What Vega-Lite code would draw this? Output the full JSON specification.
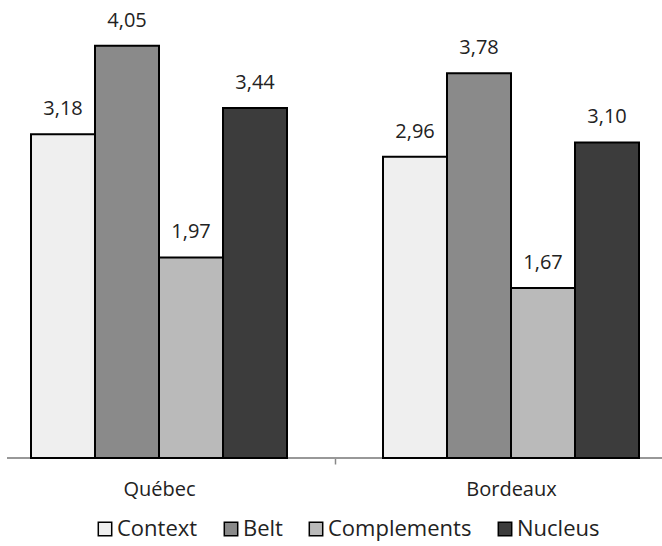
{
  "$schema": "https://vega.github.io/schema/vega-lite/v6.json",
  "width": 655,
  "height": 458,
  "autosize": {"type": "none"},
  "padding": {"left": 7, "top": 0, "right": 0, "bottom": 88},
  "background": "white",
  "config": {
    "view": {"stroke": null},
    "font": "Open Sans",
    "locale": {"number": {"decimal": ",", "thousands": " ", "grouping": [3], "currency": ["", " €"]}}
  },
  "data": {
    "values": [
      {"city": "Québec", "component": "Context", "value": 3.18},
      {"city": "Québec", "component": "Belt", "value": 4.05},
      {"city": "Québec", "component": "Complements", "value": 1.97},
      {"city": "Québec", "component": "Nucleus", "value": 3.44},
      {"city": "Bordeaux", "component": "Context", "value": 2.96},
      {"city": "Bordeaux", "component": "Belt", "value": 3.78},
      {"city": "Bordeaux", "component": "Complements", "value": 1.67},
      {"city": "Bordeaux", "component": "Nucleus", "value": 3.10}
    ]
  },
  "layer": [
    {
      "mark": {"type": "rule", "color": "#999999", "strokeWidth": 1.5},
      "encoding": {
        "y": {"datum": 0, "type": "quantitative", "scale": {"domain": [0, 4.5], "nice": false}, "axis": null}
      }
    },
    {
      "mark": {"type": "bar", "stroke": "black", "strokeWidth": 2},
      "encoding": {
        "x": {
          "field": "city", "type": "nominal", "sort": ["Québec", "Bordeaux"],
          "scale": {"range": [-24, 680], "paddingInner": 0, "paddingOuter": 0},
          "axis": {"title": null, "labelAngle": 0, "domain": false, "tickBand": "extent", "tickSize": 6, "tickColor": "#888888", "tickWidth": 1.5, "labelFontSize": 20, "labelColor": "#222222", "labelPadding": 15}
        },
        "xOffset": {"field": "component", "type": "nominal", "sort": ["Context", "Belt", "Complements", "Nucleus"], "scale": {"paddingInner": 0, "paddingOuter": 0.75}},
        "y": {"field": "value", "type": "quantitative", "scale": {"domain": [0, 4.5], "nice": false}, "axis": null},
        "color": {
          "field": "component", "type": "nominal",
          "sort": ["Context", "Belt", "Complements", "Nucleus"],
          "scale": {"domain": ["Context", "Belt", "Complements", "Nucleus"], "range": ["#efefef", "#8a8a8a", "#bababa", "#3c3c3c"]},
          "legend": {"orient": "none", "legendX": 87, "legendY": 518, "direction": "horizontal", "title": null, "symbolType": "square", "symbolSize": 180, "symbolStrokeColor": "black", "symbolStrokeWidth": 1.5, "symbolOpacity": 1, "labelFontSize": 22, "labelColor": "#222222", "columnPadding": 22, "labelOffset": 1, "padding": 0}
        }
      }
    },
    {
      "mark": {"type": "text", "baseline": "alphabetic", "dy": -19, "fontSize": 20, "color": "#222222"},
      "encoding": {
        "x": {"field": "city", "type": "nominal", "sort": ["Québec", "Bordeaux"]},
        "xOffset": {"field": "component", "type": "nominal", "sort": ["Context", "Belt", "Complements", "Nucleus"]},
        "y": {"field": "value", "type": "quantitative"},
        "text": {"field": "value", "type": "quantitative", "format": ".2f"}
      }
    }
  ]
}
